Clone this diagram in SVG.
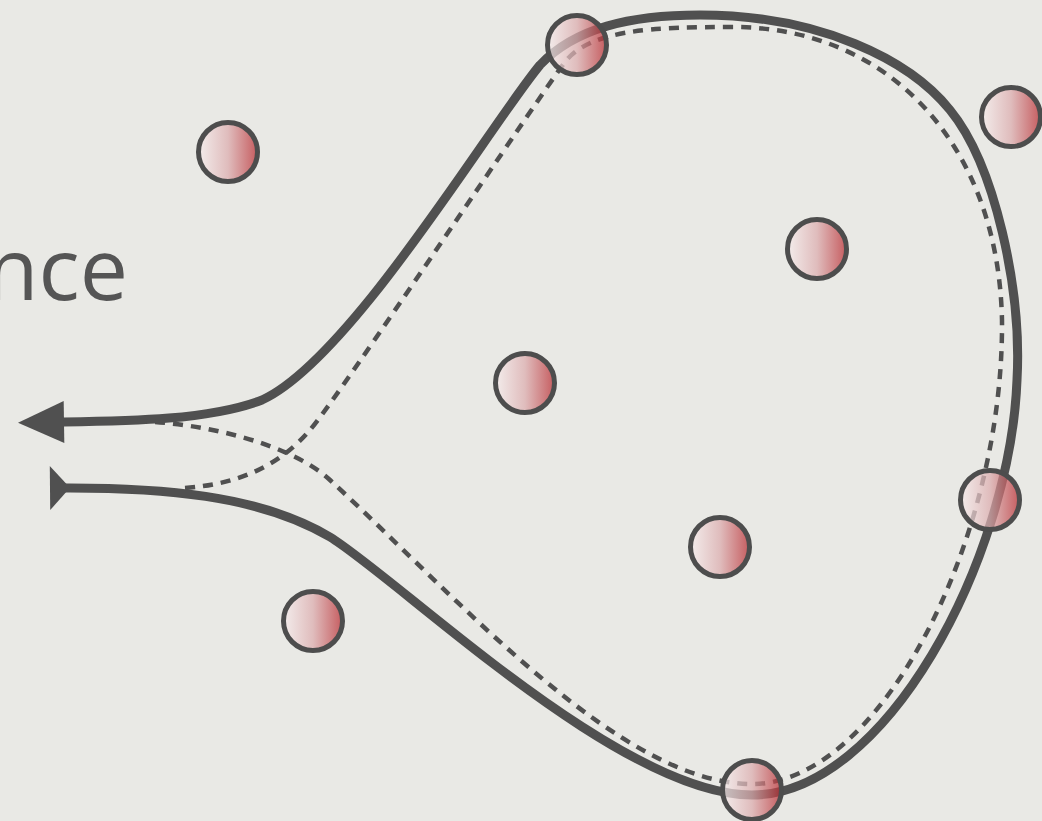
<svg xmlns="http://www.w3.org/2000/svg" width="1042" height="821" viewBox="0 0 1042 821">
  <style>
    .solid { fill: none; stroke: #505050; stroke-width: 9; stroke-linecap: butt; stroke-linejoin: round; }
    .dash { fill: none; stroke: #505050; stroke-width: 4.5; stroke-dasharray: 10 8; }
    .node { fill: url(#ball); fill-opacity: 0.72; stroke: #4d4d4d; stroke-width: 5; }
    .label { font-family: "Open Sans", "Noto Sans", "Liberation Sans", sans-serif; font-size: 86px; fill: #555555; }
  </style>
  <defs>
    <linearGradient id="ball" x1="0" y1="0" x2="1" y2="0">
      <stop offset="0" stop-color="#f7eeee"/>
      <stop offset="0.5" stop-color="#dcabad"/>
      <stop offset="1" stop-color="#b8262c"/>
    </linearGradient>
    <marker id="head" markerUnits="userSpaceOnUse" markerWidth="50" markerHeight="50" refX="2" refY="21" orient="auto" overflow="visible">
      <path d="M0,0 L46,21 L0,42 Z" fill="#505050"/>
    </marker>
    <marker id="tail" markerUnits="userSpaceOnUse" markerWidth="30" markerHeight="50" refX="5" refY="22" orient="auto" overflow="visible">
      <path d="M0,0 L20,22 L0,44 Z" fill="#505050"/>
    </marker>
  </defs>
  <rect width="1042" height="821" fill="#e9e9e5"/>
  <text class="label" x="128" y="300" text-anchor="end">nce</text>
  <g id="connectors">
    <path class="solid" marker-start="url(#tail)" marker-end="url(#head)"
      d="M55,488 C160,487 260,495 330,537 C400,580 620,795 752,795 C885,795 1010,560 1017,380 C1022,290 995,165 950,110 C910,60 820,15 700,15 C630,15 575,28 540,65 C490,125 350,360 262,400 C210,420 130,421 62,422"/>
    <path class="dash"
      d="M185,488 C240,484 280,465 310,430 C340,395 540,95 565,62 C590,30 650,27 733,27 C885,27 998,140 1002,320 C1004,540 880,784 752,784 C620,784 460,600 330,480 C290,443 200,422 133,421"/>
  </g>
  <g id="n1"><circle class="node" cx="228" cy="152" r="29.5"/></g>
  <g id="n2"><circle class="node" cx="577" cy="45" r="29.5"/></g>
  <g id="n3"><circle class="node" cx="1011" cy="117" r="29.5"/></g>
  <g id="n4"><circle class="node" cx="817" cy="249" r="29.5"/></g>
  <g id="n5"><circle class="node" cx="525" cy="383" r="29.5"/></g>
  <g id="n6"><circle class="node" cx="990" cy="500" r="29.5"/></g>
  <g id="n7"><circle class="node" cx="720" cy="547" r="29.5"/></g>
  <g id="n8"><circle class="node" cx="313" cy="621" r="29.5"/></g>
  <g id="n9"><circle class="node" cx="752" cy="790" r="29.5"/></g>
</svg>
